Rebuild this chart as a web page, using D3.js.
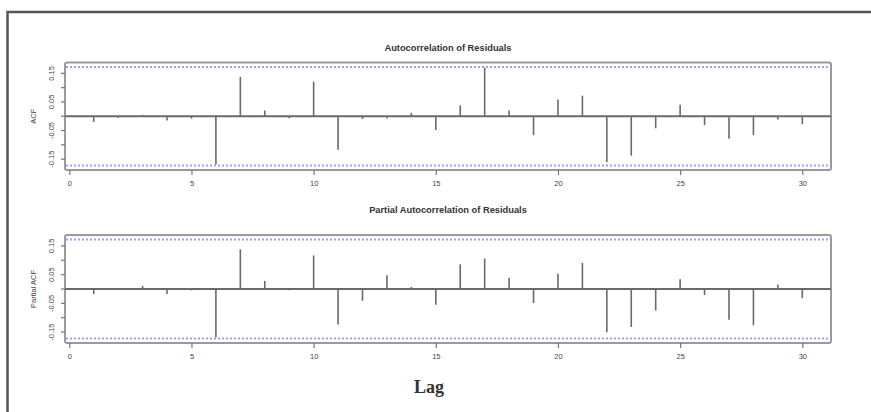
<!DOCTYPE html>
<html><head><meta charset="utf-8">
<script src="https://cdn.jsdelivr.net/npm/d3@7"></script>
<style>body{margin:0;background:#fff}svg{display:block}</style>
</head><body>
<svg id="c" width="871" height="412"></svg>
<script>
const lags = d3.range(1, 31);
const acf = [-0.02,-0.005,0.005,-0.015,-0.008,-0.169,0.138,0.02,-0.007,0.121,
             -0.117,-0.01,-0.008,0.012,-0.048,0.038,0.17,0.02,-0.066,0.059,
             0.072,-0.16,-0.138,-0.042,0.04,-0.031,-0.079,-0.066,-0.011,-0.028];
const pacf = [-0.018,-0.003,0.011,-0.017,-0.005,-0.168,0.138,0.028,-0.004,0.117,
              -0.124,-0.041,0.048,0.007,-0.055,0.086,0.106,0.039,-0.049,0.053,
              0.091,-0.151,-0.132,-0.075,0.034,-0.021,-0.107,-0.126,0.016,-0.032];
const xTicks = [0,5,10,15,20,25,30];
const yTicks = [-0.15,-0.1,-0.05,0,0.05,0.1,0.15];
const yLabels = [0.15,0.05,-0.05,-0.15];
const confBand = 0.172;
const titles = ["Autocorrelation of Residuals","Partial Autocorrelation of Residuals"];
const yTitles = ["ACF","Partial ACF"];

const svg = d3.select("#c");
// outer frame
svg.append("path").attr("d","M7.5,420 L7.5,12 L880,12")
  .attr("fill","none").attr("stroke","#555").attr("stroke-width",2.5);

const x = d3.scaleLinear().domain([0,30]).range([69.3,802.3]);
const boxL = 65, boxR = 831;

function panel(data, top, bottom, titleY, title, ytitle){
  const y = d3.scaleLinear().domain([-0.188,0.188]).range([bottom, top]);
  const g = svg.append("g");
  // box
  g.append("rect").attr("x",boxL).attr("y",top).attr("width",boxR-boxL).attr("height",bottom-top)
    .attr("rx",2).attr("fill","none").attr("stroke","#9a9a9a").attr("stroke-width",2);
  // confidence lines
  [confBand,-confBand].forEach(v=>{
    g.append("line").attr("x1",boxL+1).attr("x2",boxR-1).attr("y1",y(v)).attr("y2",y(v))
      .attr("stroke","#9c9cff").attr("stroke-width",2).attr("stroke-dasharray","2,2");
  });
  // zero line
  g.append("line").attr("x1",boxL).attr("x2",boxR).attr("y1",y(0)).attr("y2",y(0))
    .attr("stroke","#6a6a6a").attr("stroke-width",2);
  // spikes
  g.selectAll(".spike").data(lags).enter().append("line")
    .attr("x1",d=>x(d)).attr("x2",d=>x(d))
    .attr("y1",y(0)).attr("y2",(d,i)=>y(data[i]))
    .attr("stroke","#6a6a6a").attr("stroke-width",1.6);
  // y axis ticks
  g.selectAll(".yt").data(yTicks).enter().append("line")
    .attr("x1",boxL-4).attr("x2",boxL).attr("y1",d=>y(d)).attr("y2",d=>y(d))
    .attr("stroke","#777").attr("stroke-width",1.2);
  g.selectAll(".yl").data(yLabels).enter().append("text")
    .attr("transform",d=>`translate(54,${y(d)}) rotate(-90)`)
    .attr("text-anchor","middle").attr("font-family","Liberation Sans, Arial, sans-serif")
    .attr("font-size",7.5).attr("fill","#444").text(d=>d.toFixed(2));
  // x axis
  const xa = g.append("g").attr("transform",`translate(0,${bottom})`)
    .call(d3.axisBottom(x).tickValues(xTicks).tickSize(5).tickPadding(6).tickFormat(d3.format("d")));
  xa.select(".domain").remove();
  xa.selectAll("line").attr("stroke","#777").attr("stroke-width",1.2);
  xa.selectAll("text").attr("font-family","Liberation Sans, Arial, sans-serif")
    .attr("font-size",7.5).attr("fill","#444");
  // title
  g.append("text").attr("x",(boxL+boxR)/2).attr("y",titleY).attr("text-anchor","middle")
    .attr("font-family","Liberation Sans, Arial, sans-serif").attr("font-size",9.3)
    .attr("font-weight","bold").attr("fill","#333").text(title);
  // y title
  g.append("text").attr("transform",`translate(36,${y(0)}) rotate(-90)`)
    .attr("text-anchor","middle").attr("font-family","Liberation Sans, Arial, sans-serif")
    .attr("font-size",7.5).attr("fill","#444").text(ytitle);
}
panel(acf, 62.5, 170, 51, titles[0], yTitles[0]);
panel(pacf, 235, 343, 213, titles[1], yTitles[1]);

svg.append("text").attr("x",429).attr("y",393).attr("text-anchor","middle")
  .attr("font-family","Liberation Serif, serif").attr("font-weight","bold")
  .attr("font-size",18).attr("fill","#333").text("Lag");
</script>
</body></html>
